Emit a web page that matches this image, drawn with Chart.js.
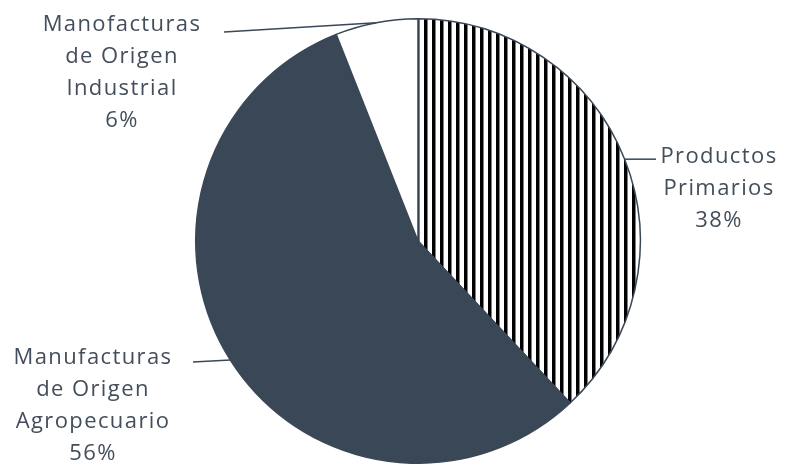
<!DOCTYPE html>
<html>
<head>
<meta charset="utf-8">
<script src="https://cdn.jsdelivr.net/npm/chart.js@4/dist/chart.umd.min.js"></script>
<style>
  html, body { margin: 0; padding: 0; background: #ffffff; overflow: hidden; }
  #wrap { width: 786px; height: 464px; }
</style>
</head>
<body>
<div id="wrap"><canvas id="exportChart" width="786" height="464"></canvas></div>
<script>
/* Export composition by category */
var categories = [
    ['Productos', 'Primarios'],
    ['Manufacturas', 'de Origen', 'Agropecuario'],
    ['Manofacturas', 'de Origen', 'Industrial']
];
var shares = [38, 56, 6];

var slate = '#3a4757';
var textColor = '#434e5b';

/* Vertical black hatching for the first slice */
function makeStripes() {
    var c = document.createElement('canvas');
    c.width = 8;
    c.height = 8;
    var g = c.getContext('2d');
    g.fillStyle = '#ffffff';
    g.fillRect(0, 0, 8, 8);
    g.fillStyle = '#000000';
    g.fillRect(0, 0, 3.5, 8);
    return g.createPattern(c, 'repeat');
}

/* Where each label block sits and where its leader line ends */
var labelLayout = [
    { cx: 719, top: 157, lineTo: [656, null] },
    { cx: 93, top: 358, lineTo: [193, null] },
    { cx: 122, top: 25, lineTo: [224, 32] }
];

var outsideLabels = {
    id: 'outsideLabels',
    afterDatasetsDraw: function(chart) {
        var ctx = chart.ctx;
        var meta = chart.getDatasetMeta(0);
        ctx.save();
        meta.data.forEach(function(arc, i) {
            var mid = (arc.startAngle + arc.endAngle) / 2;
            var px = arc.x + Math.cos(mid) * arc.outerRadius;
            var py = arc.y + Math.sin(mid) * arc.outerRadius;
            var lay = labelLayout[i];
            var ex = lay.lineTo[0];
            var ey = lay.lineTo[1] === null ? py + (i === 1 ? 2 : 0) : lay.lineTo[1];

            ctx.strokeStyle = slate;
            ctx.lineWidth = 1.5;
            ctx.beginPath();
            ctx.moveTo(px, py);
            ctx.lineTo(ex, ey);
            ctx.stroke();

            var lines = categories[i].concat([shares[i] + '%']);
            ctx.fillStyle = textColor;
            ctx.font = '22px "Open Sans"';
            ctx.letterSpacing = '1.4px';
            ctx.textAlign = 'center';
            ctx.textBaseline = 'middle';
            lines.forEach(function(t, k) {
                ctx.fillText(t, lay.cx, lay.top + k * 32);
            });
        });
        ctx.restore();
    }
};

var ctx = document.getElementById('exportChart').getContext('2d');
var chart = new Chart(ctx, {
    type: 'pie',
    data: {
        labels: categories,
        datasets: [{
            data: shares,
            backgroundColor: [makeStripes(), slate, '#ffffff'],
            borderColor: slate,
            borderWidth: 1.5
        }]
    },
    options: {
        responsive: false,
        animation: false,
        layout: { padding: { top: 18, left: 50, right: 0, bottom: 0 } },
        plugins: {
            legend: { display: false },
            tooltip: { enabled: false }
        }
    },
    plugins: [outsideLabels]
});
</script>
</body>
</html>
